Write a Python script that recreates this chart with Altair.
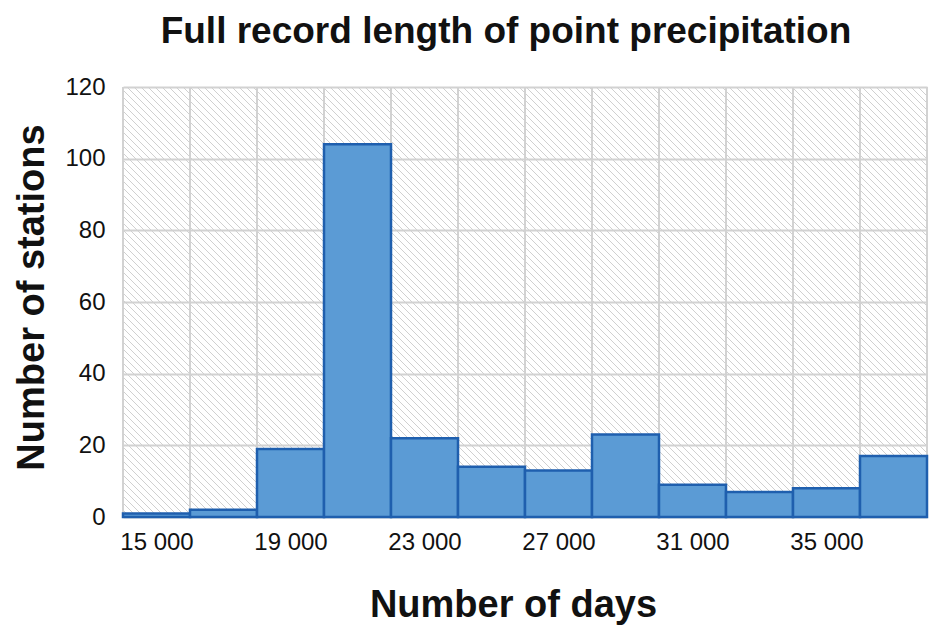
import altair as alt
import pandas as pd
import numpy as np

bin_start = [14000, 16000, 18000, 20000, 22000, 24000, 26000, 28000, 30000, 32000, 34000, 36000]
bin_end = [16000, 18000, 20000, 22000, 24000, 26000, 28000, 30000, 32000, 34000, 36000, 38000]
counts = [1, 2, 19, 104, 22, 14, 13, 23, 9, 7, 8, 17]
x_ticks = [15000, 19000, 23000, 27000, 31000, 35000]
grid_x = [14000, 16000, 18000, 20000, 22000, 24000, 26000, 28000, 30000, 32000, 34000, 36000, 38000]

W, H = 804, 430
XMIN, XMAX, YMIN, YMAX = 14000, 38000, 0, 120

bars = pd.DataFrame({"start": bin_start, "end": bin_end, "count": counts})
grid = pd.DataFrame({"x": grid_x})

# diagonal hatch for the plot background (decorative style)
rows = []
step = 7
for c in range(-H, W, step):
    py0 = max(0, -c)
    py1 = min(H, W - c)
    if py1 <= py0:
        continue
    px0, px1 = py0 + c, py1 + c
    rows.append({
        "x": XMIN + px0 * (XMAX - XMIN) / W,
        "x2": XMIN + px1 * (XMAX - XMIN) / W,
        "y": YMAX - py0 * (YMAX - YMIN) / H,
        "y2": YMAX - py1 * (YMAX - YMIN) / H,
    })
hatch = pd.DataFrame(rows)

xscale = alt.Scale(domain=[XMIN, XMAX], nice=False, zero=False)
yscale = alt.Scale(domain=[YMIN, YMAX], nice=False)

xaxis = alt.Axis(
    values=x_ticks,
    labelExpr="replace(format(datum.value, ',d'), ',', ' ')",
    grid=False, ticks=False, domain=False,
    labelFontSize=24, labelColor="#111", labelPadding=13, labelFont="Liberation Sans",
    title="Number of days", titleFontSize=38, titleFontWeight="bold", titleColor="#111",
    titleFont="Liberation Sans", titleX=390, titleY=88, titleBaseline="middle",
)
yaxis = alt.Axis(
    values=[0, 20, 40, 60, 80, 100, 120],
    grid=True, gridColor="#d2d2d2", gridWidth=2,
    ticks=False, domain=False,
    labelFontSize=24, labelColor="#111", labelPadding=18, labelFont="Liberation Sans",
    title="Number of stations", titleFontSize=38, titleFontWeight="bold", titleColor="#111",
    titleFont="Liberation Sans", titleX=-91, titleY=210, titleAngle=-90, titleBaseline="middle",
    titleAlign="center",
)

hatch_layer = alt.Chart(hatch).mark_rule(color="#d0d0d0", strokeWidth=1, clip=True).encode(
    x=alt.X("x:Q", scale=xscale, axis=xaxis),
    x2="x2:Q",
    y=alt.Y("y:Q", scale=yscale, axis=yaxis),
    y2="y2:Q",
)

grid_layer = alt.Chart(grid).mark_rule(color="#d2d2d2", strokeWidth=2).encode(
    x=alt.X("x:Q", scale=xscale),
    y=alt.value(0),
    y2=alt.value(H),
)

bar_layer = alt.Chart(bars).mark_rect(
    color="#5b9bd5", stroke="#1f5fae", strokeWidth=2.5
).encode(
    x=alt.X("start:Q", scale=xscale),
    x2="end:Q",
    y=alt.Y("count:Q", scale=yscale),
    y2=alt.datum(0),
)

chart = alt.layer(hatch_layer, grid_layer, bar_layer).properties(
    width=W, height=H,
    title=alt.TitleParams(
        "Full record length of point precipitation",
        fontSize=37, fontWeight="bold", font="Liberation Sans", color="#111",
        anchor="middle", dx=-19, offset=24,
    ),
    autosize=alt.AutoSizeParams(type="none"),
    padding={"left": 115, "top": 79, "right": 6, "bottom": 110},
).configure_view(stroke=None)

chart.save("out.html", embed_options={"renderer": "svg", "actions": False})
